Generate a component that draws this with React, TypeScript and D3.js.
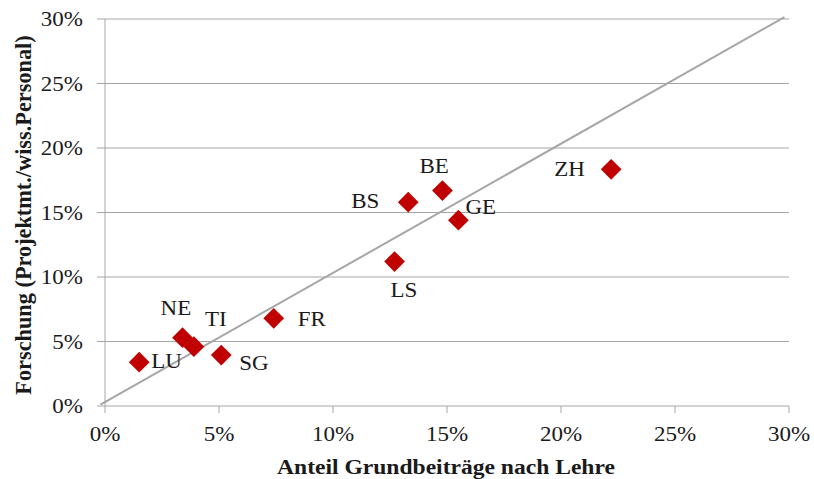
import React from 'react';
import * as d3 from 'd3';

// Kantone: Anteil Grundbeiträge nach Lehre (x) vs. Forschung (y), in %
const cantons = ['LU', 'NE', 'TI', 'SG', 'FR', 'BS', 'BE', 'GE', 'LS', 'ZH'];
const teachingShare = [1.5, 3.4, 3.9, 5.1, 7.4, 13.3, 14.8, 15.5, 12.7, 22.2];
const researchShare = [3.4, 5.3, 4.6, 3.95, 6.8, 15.8, 16.7, 14.4, 11.2, 18.35];
// label offset from point (px): dx, dy of text start / baseline
const labelDx = [12, -22, 11, 18, 24, -57, -23, 7, -4, -57];
const labelDy = [6, -23, -21, 15, 8, 6, -18, -6, 35, 7];

const ticks = [0, 5, 10, 15, 20, 25, 30];
// trend line end points (x%, y%)
const trendX = [-0.2, 29.8];
const trendY = [0.1, 30.15];

const W = 814;
const H = 479;
const margin = { left: 105, right: 25, top: 19, bottom: 73 };
const font = '"Liberation Serif", "Times New Roman", serif';
const grid = '#A6A6A6';
const ink = '#1a1a1a';
const stretch = 1.15; // the reference text is a bit wide

type TProps = {
  x: number;
  y: number;
  size?: number;
  anchor?: 'start' | 'middle' | 'end';
  bold?: boolean;
  dy?: string;
  children: React.ReactNode;
};

const T = ({ x, y, size = 20, anchor = 'start', bold = false, dy, children }: TProps) => (
  <text transform={`translate(${x},${y}) scale(${stretch},1)`} dy={dy} textAnchor={anchor}
    fontSize={size} fontWeight={bold ? 'bold' : 'normal'} fill={ink}>
    {children}
  </text>
);

export default function App() {
  const x = d3.scaleLinear().domain([0, 30]).range([margin.left, W - margin.right]);
  const y = d3.scaleLinear().domain([0, 30]).range([H - margin.bottom, margin.top]);
  const diamond = d3.symbol().type(d3.symbolSquare).size(215)();
  const line = d3.line<number>().x((d) => x(trendX[d])).y((d) => y(trendY[d]));

  return (
    <svg width={W} height={H} style={{ position: 'absolute', left: 0, top: 0, background: '#fff' }}
      fontFamily={font}>
      {/* horizontal grid lines + left ticks */}
      {ticks.map((t) => (
        <line key={'g' + t} x1={x(0) - 8} x2={x(30)} y1={y(t)} y2={y(t)} stroke={grid} strokeWidth={1} />
      ))}
      {/* y axis */}
      <line x1={x(0)} x2={x(0)} y1={y(0)} y2={y(30)} stroke={grid} strokeWidth={1} />
      {/* x axis ticks */}
      {ticks.map((t) => (
        <line key={'xt' + t} x1={x(t)} x2={x(t)} y1={y(0)} y2={y(0) + 7} stroke={grid} strokeWidth={1} />
      ))}
      {/* tick labels */}
      {ticks.map((t) => (
        <T key={'yl' + t} x={x(0) - 22} y={y(t)} dy="0.35em" anchor="end">{t}%</T>
      ))}
      {ticks.map((t) => (
        <T key={'xl' + t} x={x(t)} y={y(0) + 35} anchor="middle">{t}%</T>
      ))}
      {/* trend line */}
      <path d={line([0, 1]) || ''} stroke={grid} strokeWidth={2} fill="none" />
      {/* points */}
      {cantons.map((c, i) => (
        <path key={'p' + c} d={diamond || ''}
          transform={`translate(${x(teachingShare[i])},${y(researchShare[i])}) rotate(45)`}
          fill="#C00000" />
      ))}
      {cantons.map((c, i) => (
        <T key={'l' + c} x={x(teachingShare[i]) + labelDx[i]} y={y(researchShare[i]) + labelDy[i]}>
          {c}
        </T>
      ))}
      {/* axis titles */}
      <T x={446} y={474} anchor="middle" size={20.5} bold>
        Anteil Grundbeiträge nach Lehre
      </T>
      <text transform={`translate(31,215) rotate(-90)`} textAnchor="middle" fontSize={22.3}
        fontWeight="bold" fill={ink}>
        Forschung (Projektmt./wiss.Personal)
      </text>
    </svg>
  );
}
